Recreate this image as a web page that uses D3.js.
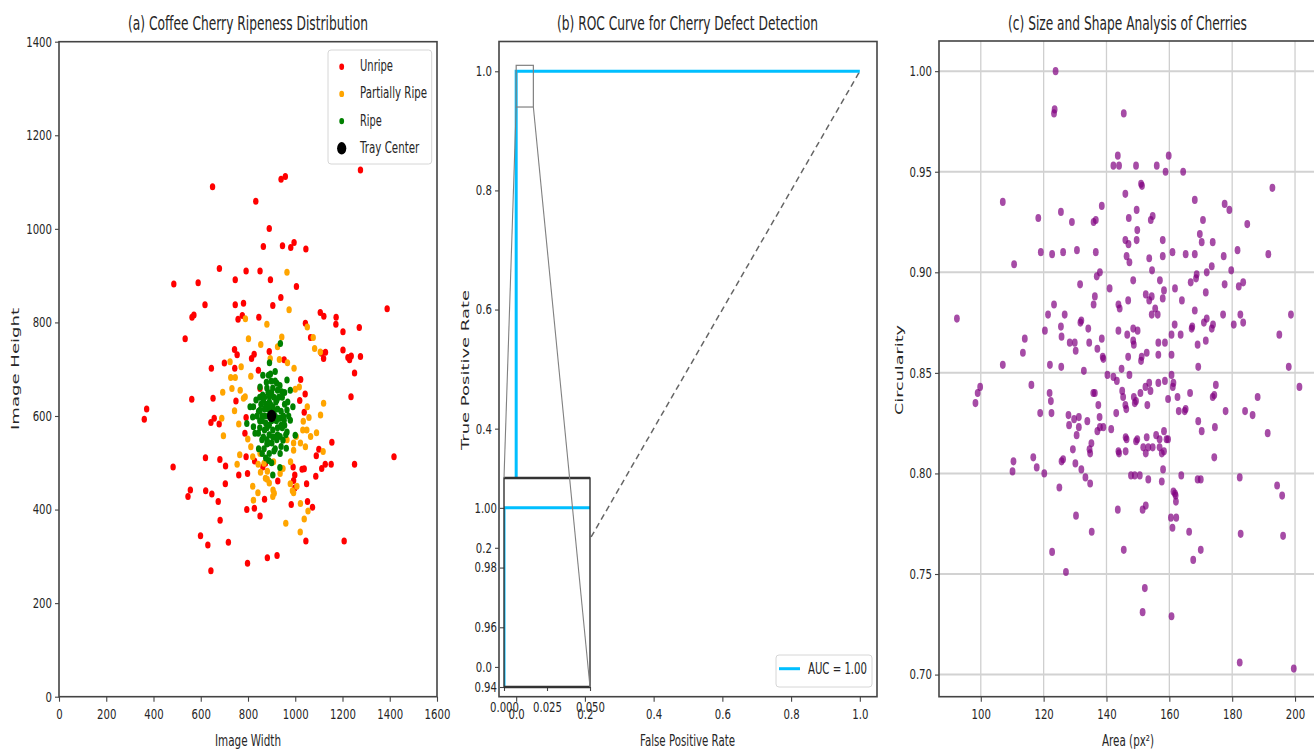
<!DOCTYPE html>
<html>
<head>
<meta charset="utf-8">
<script src="https://cdn.jsdelivr.net/npm/d3@7"></script>
<style>
  body { margin: 0; background: #fff; }
  svg text { font-family: "DejaVu Sans", sans-serif; fill: #262626; }
  .axis line { stroke: #444; }
</style>
</head>
<body>
<div id="chart"></div>
<script>
// ---------- data ----------
// (a) cherry positions on the tray [image width, image height]
const unripePts = [[650,1090],[833,1059],[940,1106],[958,1112],[1276,1126],[890,1001],[865,962],[946,964],[981,960],[995,971],[1045,957],[679,915],[792,910],[851,910],[486,882],[589,885],[746,891],[895,891],[1005,877],[1389,829],[618,838],[746,838],[781,841],[905,836],[939,853],[563,811],[571,816],[758,807],[776,815],[846,811],[1043,798],[1106,821],[1121,813],[1173,811],[1172,796],[1202,780],[1271,789],[534,765],[1065,768],[743,742],[754,731],[815,723],[826,732],[953,720],[890,738],[1111,734],[1128,736],[1120,723],[1202,741],[1223,725],[1237,728],[1230,720],[1276,727],[1251,692],[1236,641],[1418,513],[645,702],[700,713],[744,702],[844,698],[562,636],[652,638],[749,632],[851,659],[361,593],[371,615],[643,586],[657,595],[678,583],[1023,678],[1042,647],[1019,633],[1038,608],[1155,544],[1100,529],[1089,515],[483,491],[620,511],[681,507],[705,493],[761,474],[798,477],[792,513],[828,504],[926,461],[991,491],[1029,486],[1038,487],[1087,471],[1112,488],[1127,497],[1152,497],[1251,497],[704,455],[556,442],[546,428],[621,440],[647,433],[998,474],[993,462],[998,446],[1048,455],[674,417],[795,400],[827,403],[851,386],[682,377],[1073,405],[1052,417],[983,411],[1045,333],[1207,333],[599,344],[630,324],[717,330],[798,285],[882,297],[923,302],[643,269],[787,563],[792,597],[870,422],[863,491],[874,499]];
const partialPts = [[965,907],[974,827],[789,808],[880,796],[1051,790],[802,765],[854,753],[943,769],[1076,768],[1082,744],[1106,737],[925,748],[724,716],[771,705],[894,723],[933,721],[967,714],[995,702],[727,682],[767,655],[693,651],[732,659],[781,638],[812,685],[1000,657],[1017,662],[1120,627],[1058,597],[1107,602],[1034,589],[1032,570],[1065,556],[1090,564],[1022,542],[1043,534],[1118,524],[993,527],[1004,556],[980,502],[948,488],[1007,450],[988,440],[1022,413],[1054,397],[1038,380],[960,371],[1021,352],[881,465],[890,457],[906,442],[911,435],[905,428],[823,420],[842,436],[820,450],[853,480],[843,497],[820,513],[765,517],[754,497],[743,611],[689,595],[696,558],[761,583],[799,551],[812,534],[851,520],[908,502],[882,482],[874,467],[936,477],[979,455],[993,436],[788,641],[746,682],[1051,620],[965,549],[1049,570],[868,499],[993,542]];
const ripePts = [[937,755],[891,714],[915,695],[863,687],[887,687],[965,677],[979,655],[943,652],[851,662],[834,634],[820,598],[823,577],[844,563],[859,549],[965,613],[979,591],[1000,559],[965,566],[936,520],[962,531],[905,474],[795,584],[809,620],[936,556],[901,542],[880,549],[922,634],[865,634],[936,595],[851,613],[891,641],[922,670],[830,563],[887,542],[922,549],[990,620],[953,591],[823,620],[870,600],[880,620],[890,580],[910,610],[920,590],[900,650],[880,660],[905,570],[915,555],[870,570],[860,590],[895,625],[925,615],[940,610],[885,600],[910,640],[930,640],[870,640],[850,575],[900,590],[915,675],[895,690],[880,575],[925,575],[945,575],[955,625],[860,520],[875,510],[890,520],[915,530],[940,535],[845,530],[900,500],[935,490],[960,560],[850,640],[845,610],[875,625],[905,605],[890,560],
  [860,600],[875,585],[895,605],[915,600],[930,595],[905,620],[890,630],[870,615],[885,650],[905,660],[925,655],[945,640],[950,600],[940,580],[925,560],[905,555],[880,540],[865,555],[855,625],[862,645],[878,672],[898,675],[935,665],[955,650],[968,630],[972,600],[955,580],[948,548],[910,525],[888,505],[868,530],[850,590],[838,600],[900,615],[918,630],[885,615]];
const trayCenter = [900, 600];
const ripenessClasses = ["Unripe", "Partially Ripe", "Ripe", "Tray Center"];

// (b) ROC
const rocFpr = [0, 0, 1];
const rocTpr = [0, 1, 1];
const chanceFpr = [0, 1];
const chanceTpr = [0, 1];
const aucLabel = "AUC = 1.00";

// (c) [area px², circularity]
const cherryPts = [[123.8,1.000],[123.3,0.979],[123.5,0.981],[145.5,0.979],[143.6,0.958],[142.2,0.953],[144.0,0.953],[149.4,0.953],[156.0,0.953],[158.8,0.950],[159.8,0.958],[164.4,0.950],[151.0,0.944],[151.3,0.943],[146.0,0.939],[107.0,0.935],[192.8,0.942],[168.1,0.936],[177.6,0.934],[179.1,0.931],[118.3,0.927],[125.5,0.930],[129.0,0.925],[135.9,0.925],[136.6,0.926],[138.5,0.933],[147.1,0.927],[149.6,0.931],[154.1,0.926],[154.7,0.928],[149.8,0.921],[170.7,0.926],[184.8,0.924],[146.0,0.916],[147.0,0.914],[149.6,0.916],[157.9,0.916],[169.7,0.919],[170.3,0.915],[173.8,0.915],
  [119.1,0.910],[122.7,0.909],[126.2,0.910],[130.6,0.911],[136.6,0.910],[146.4,0.908],[147.3,0.905],[153.6,0.907],[157.9,0.908],[161.0,0.910],[165.2,0.909],[168.1,0.909],[177.3,0.908],[181.7,0.911],[191.5,0.909],
  [110.6,0.904],[137.9,0.900],[136.9,0.898],[154.5,0.901],[157.0,0.896],[179.7,0.901],[173.5,0.903],[171.9,0.900],[168.7,0.899],[168.5,0.897],[166.8,0.895],[161.8,0.892],[177.6,0.894],[182.1,0.893],[183.5,0.895],[148.5,0.896],[131.6,0.894],[141.0,0.892],[146.9,0.886],[143.8,0.884],[144.2,0.882],[135.9,0.884],[136.3,0.888],[152.5,0.889],[153.6,0.886],[154.4,0.888],[155.5,0.882],[156.3,0.879],[154.4,0.879],[158.3,0.891],[157.9,0.887],[164.0,0.886],[168.1,0.881],[171.6,0.890],[177.1,0.879],[182.6,0.879],[183.5,0.875],[180.5,0.874],[198.7,0.879],[195.0,0.869],[198.0,0.853],[201.4,0.843],[92.4,0.877],[121.4,0.879],[123.3,0.884],[120.4,0.871],[126.7,0.879],[125.5,0.873],[125.7,0.868],[132.0,0.876],[131.7,0.875],[134.2,0.872],[128.3,0.865],[129.9,0.865],[130.2,0.861],[134.5,0.865],[137.1,0.862],[138.5,0.867],[138.8,0.858],[139.0,0.857],[143.8,0.871],[146.6,0.869],[148.5,0.872],[149.9,0.871],[148.5,0.866],[148.7,0.864],[146.9,0.858],[151.0,0.856],[151.2,0.858],[152.8,0.860],[156.5,0.865],[158.6,0.865],[160.7,0.869],[161.7,0.874],[163.6,0.869],[156.5,0.859],[160.7,0.859],[167.1,0.872],[167.3,0.873],[169.0,0.864],[169.2,0.853],[171.0,0.875],[171.9,0.877],[171.6,0.866],[173.5,0.872],[173.9,0.874],
  [144.8,0.852],[147.3,0.849],[143.3,0.846],[145.0,0.841],[140.3,0.849],[142.2,0.848],[132.8,0.851],[125.6,0.853],[122.0,0.854],[113.4,0.860],[114.0,0.867],[107.0,0.854],[116.1,0.844],[98.3,0.835],[99.0,0.840],[99.8,0.843],[118.9,0.830],[121.9,0.840],[122.3,0.836],[122.5,0.830],[127.9,0.829],[128.1,0.824],[130.5,0.819],[129.7,0.827],[131.2,0.828],[131.2,0.823],[133.9,0.826],[135.8,0.840],[136.3,0.840],[137.4,0.834],[137.8,0.828],[137.1,0.821],[137.9,0.823],[139.0,0.823],[141.5,0.822],[143.1,0.830],[146.0,0.834],[146.3,0.832],[145.3,0.838],[148.7,0.838],[149.0,0.835],[149.4,0.836],[150.8,0.840],[152.4,0.843],[153.0,0.834],[153.6,0.845],[154.0,0.841],[156.5,0.845],[158.6,0.846],[159.6,0.837],[160.7,0.849],[161.3,0.845],[161.1,0.843],[162.6,0.838],[163.0,0.831],[164.9,0.831],[165.2,0.832],[166.6,0.840],[169.2,0.826],[170.3,0.821],[173.8,0.838],[174.3,0.839],[174.8,0.844],[174.5,0.823],[177.9,0.831],[184.1,0.831],[186.5,0.829],[188.1,0.838],[191.3,0.820],
  [158.3,0.821],[159.1,0.817],[159.6,0.817],[155.8,0.819],[156.9,0.817],[156.9,0.813],[152.8,0.818],[153.3,0.813],[151.7,0.813],[149.4,0.816],[149.8,0.817],[146.1,0.818],[146.4,0.817],[143.8,0.811],[144.0,0.810],[146.1,0.811],[152.5,0.810],[154.7,0.813],[157.6,0.810],[158.3,0.811],[158.0,0.802],[163.8,0.799],[147.8,0.799],[149.0,0.799],[150.6,0.799],[153.3,0.797],[157.6,0.796],[161.3,0.791],[161.8,0.790],[162.0,0.789],[169.0,0.797],[170.0,0.797],[174.3,0.808],[182.4,0.798],[194.3,0.794],[195.9,0.789],[134.6,0.812],[134.8,0.810],[135.2,0.815],[132.0,0.802],[133.3,0.798],[134.8,0.795],[130.1,0.805],[125.7,0.806],[126.2,0.807],[129.3,0.812],[125.0,0.793],[120.2,0.800],[116.7,0.808],[117.8,0.803],[110.4,0.806],[110.1,0.801],
  [162.1,0.786],[152.5,0.784],[151.5,0.782],[143.6,0.782],[130.3,0.779],[135.3,0.771],[160.5,0.778],[162.2,0.778],[161.0,0.773],[166.3,0.771],[182.7,0.770],[196.2,0.769],[122.7,0.761],[145.5,0.762],[170.0,0.762],[167.6,0.757],[127.1,0.751],[152.2,0.743],[151.5,0.731],[160.7,0.729],[182.4,0.706],[199.6,0.703]];

// tick labels
const widthTicks = [0, 200, 400, 600, 800, 1000, 1200, 1400, 1600];
const heightTicks = [0, 200, 400, 600, 800, 1000, 1200, 1400];
const rateTicks = [0, 0.2, 0.4, 0.6, 0.8, 1.0];
const insetXTicks = [0, 0.025, 0.05];
const insetYTicks = [0.94, 0.96, 0.98, 1.00];
const areaTicks = [100, 120, 140, 160, 180, 200];
const circTicks = [0.70, 0.75, 0.80, 0.85, 0.90, 0.95, 1.00];

// ---------- setup ----------
const W = 1314, H = 753;
const svg = d3.select("#chart").append("svg").attr("width", W).attr("height", H);
const sx = 0.74;           // horizontal squeeze of the glyphs
const tickFont = 13.7;

function squeezeTicks(g) {
  g.select(".domain").remove();
  g.selectAll(".tick text").attr("font-size", tickFont).attr("fill", "#262626").each(function() {
    const t = d3.select(this);
    const x = +t.attr("x") || 0;
    t.attr("x", null).attr("transform", `translate(${x},0) scale(${sx},1)`);
  });
  g.selectAll(".tick line").attr("stroke", "#444").attr("stroke-width", 1.1);
}

function title(x, txt, len) {
  svg.append("text").attr("x", x).attr("y", 30).attr("text-anchor", "middle")
    .attr("font-size", 19).attr("textLength", len).attr("lengthAdjust", "spacingAndGlyphs").text(txt);
}
function xLabel(x, txt, len) {
  svg.append("text").attr("x", x).attr("y", 746).attr("text-anchor", "middle")
    .attr("font-size", 16).attr("textLength", len).attr("lengthAdjust", "spacingAndGlyphs").text(txt);
}
function yLabel(x, y, txt, len) {
  svg.append("text").attr("transform", `translate(${x},${y}) rotate(-90) scale(1,0.55)`)
    .attr("text-anchor", "middle").attr("font-size", 17.5)
    .attr("textLength", len).attr("lengthAdjust", "spacingAndGlyphs").text(txt);
}
function frame(x0, y0, x1, y1) {
  svg.append("rect").attr("x", x0).attr("y", y0).attr("width", x1 - x0).attr("height", y1 - y0)
    .attr("fill", "none").attr("stroke", "#444").attr("stroke-width", 1.6);
}
function clip(id, x0, y0, x1, y1) {
  svg.append("clipPath").attr("id", id).append("rect")
    .attr("x", x0).attr("y", y0).attr("width", x1 - x0).attr("height", y1 - y0);
}

// ---------- (a) ripeness distribution ----------
const aX = d3.scaleLinear().domain([0, 1600]).range([59, 437]);
const aY = d3.scaleLinear().domain([0, 1400]).range([696.7, 41.7]);

svg.append("g").attr("class", "axis").attr("transform", "translate(0,696.7)")
  .call(d3.axisBottom(aX).tickValues(widthTicks).tickSize(5).tickPadding(8).tickFormat(d3.format("d")))
  .call(squeezeTicks);
svg.append("g").attr("class", "axis").attr("transform", "translate(59,0)")
  .call(d3.axisLeft(aY).tickValues(heightTicks).tickSize(4).tickPadding(3).tickFormat(d3.format("d")))
  .call(squeezeTicks);

const groupsA = [
  {pts: unripePts, color: "#ff0000"},
  {pts: partialPts, color: "#ffa500"},
  {pts: ripePts, color: "#008000"}
];
groupsA.forEach(grp => {
  svg.append("g").selectAll("ellipse").data(grp.pts).join("ellipse")
    .attr("cx", d => aX(d[0])).attr("cy", d => aY(d[1]))
    .attr("rx", 2.7).attr("ry", 3.5).attr("fill", grp.color);
});
svg.append("ellipse").attr("cx", aX(trayCenter[0])).attr("cy", aY(trayCenter[1]))
  .attr("rx", 4.6).attr("ry", 6.2).attr("fill", "#000");

frame(59, 41.7, 437, 696.7);

// legend (a)
const legA = svg.append("g");
legA.append("rect").attr("x", 328).attr("y", 50).attr("width", 103.7).attr("height", 114)
  .attr("rx", 3).attr("fill", "#fff").attr("fill-opacity", 0.8).attr("stroke", "#d6d6d6");
const legColors = ["#ff0000", "#ffa500", "#008000", "#000"];
const legLens = [33, 67, 21.7, 59.3];
ripenessClasses.forEach((name, i) => {
  const cy = 66.7 + i * 27.2;
  const big = i === 3;
  legA.append("ellipse").attr("cx", 341.7).attr("cy", cy)
    .attr("rx", big ? 4.6 : 2.4).attr("ry", big ? 6.2 : 3.2).attr("fill", legColors[i]);
  legA.append("text").attr("x", 360).attr("y", cy + 4.5).attr("font-size", 15)
    .attr("textLength", legLens[i]).attr("lengthAdjust", "spacingAndGlyphs").text(name);
});

title(248, "(a) Coffee Cherry Ripeness Distribution", 240);
xLabel(248, "Image Width", 66);
yLabel(19, 369, "Image Height", 122);

// ---------- (b) ROC curve ----------
const bX = d3.scaleLinear().domain([-0.05, 1.05]).range([499, 877]);
const bY = d3.scaleLinear().domain([-0.05, 1.05]).range([696.7, 41.5]);
clip("clipB", 499, 41.5, 877, 696.7);

svg.append("g").attr("class", "axis").attr("transform", "translate(0,696.7)")
  .call(d3.axisBottom(bX).tickValues(rateTicks).tickSize(5).tickPadding(8).tickFormat(d3.format(".1f")))
  .call(squeezeTicks);
svg.append("g").attr("class", "axis").attr("transform", "translate(499,0)")
  .call(d3.axisLeft(bY).tickValues(rateTicks).tickSize(4).tickPadding(3).tickFormat(d3.format(".1f")))
  .call(squeezeTicks);

const rocData = rocFpr.map((f, i) => [f, rocTpr[i]]);
const chanceData = chanceFpr.map((f, i) => [f, chanceTpr[i]]);
const bLine = d3.line().x(d => bX(d[0])).y(d => bY(d[1]));

const bPlot = svg.append("g").attr("clip-path", "url(#clipB)");
bPlot.append("path").datum(chanceData).attr("d", bLine)
  .attr("fill", "none").attr("stroke", "#666").attr("stroke-width", 1.5).attr("stroke-dasharray", "6,4");
bPlot.append("path").datum(rocData).attr("d", bLine)
  .attr("fill", "none").attr("stroke", "#00bfff").attr("stroke-width", 3);

// zoom indicator
const zoomX = [0, 0.05], zoomY = [0.94, 1.01];
svg.append("rect").attr("x", bX(zoomX[0])).attr("y", bY(zoomY[1]))
  .attr("width", bX(zoomX[1]) - bX(zoomX[0])).attr("height", bY(zoomY[0]) - bY(zoomY[1]))
  .attr("fill", "none").attr("stroke", "#808080").attr("stroke-width", 1.2);

frame(499, 41.5, 877, 696.7);

// inset
const iX = d3.scaleLinear().domain(zoomX).range([504, 590]);
const iY = d3.scaleLinear().domain(zoomY).range([687, 478]);
clip("clipI", 504, 478, 590, 687);
svg.append("rect").attr("x", 504).attr("y", 478).attr("width", 86).attr("height", 209).attr("fill", "#fff");
const iLine = d3.line().x(d => iX(d[0])).y(d => iY(d[1]));
svg.append("g").attr("clip-path", "url(#clipI)").append("path").datum(rocData).attr("d", iLine)
  .attr("fill", "none").attr("stroke", "#00bfff").attr("stroke-width", 3);
svg.append("g").attr("class", "axis").attr("transform", "translate(0,687)")
  .call(d3.axisBottom(iX).tickValues(insetXTicks).tickSize(4).tickPadding(11).tickFormat(d3.format(".3f")))
  .call(squeezeTicks);
svg.append("g").attr("class", "axis").attr("transform", "translate(504,0)")
  .call(d3.axisLeft(iY).tickValues(insetYTicks).tickSize(4).tickPadding(3).tickFormat(d3.format(".2f")))
  .call(squeezeTicks);
svg.append("rect").attr("x", 504).attr("y", 478).attr("width", 86).attr("height", 209)
  .attr("fill", "none").attr("stroke", "#333").attr("stroke-width", 1.4);
[478, 687].forEach(y => svg.append("line").attr("x1", 504).attr("x2", 590).attr("y1", y).attr("y2", y)
  .attr("stroke", "#333").attr("stroke-width", 2.4));

// connectors
svg.append("line").attr("x1", bX(zoomX[0])).attr("y1", bY(zoomY[0])).attr("x2", iX(zoomX[0])).attr("y2", iY(zoomY[1]))
  .attr("stroke", "#808080").attr("stroke-width", 1.1);
svg.append("line").attr("x1", bX(zoomX[1])).attr("y1", bY(zoomY[0])).attr("x2", iX(zoomX[1])).attr("y2", iY(zoomY[0]))
  .attr("stroke", "#808080").attr("stroke-width", 1.1);

// legend (b)
const legB = svg.append("g");
legB.append("rect").attr("x", 776).attr("y", 655).attr("width", 96).attr("height", 32)
  .attr("rx", 3).attr("fill", "#fff").attr("fill-opacity", 0.8).attr("stroke", "#d6d6d6");
legB.append("line").attr("x1", 779).attr("x2", 800).attr("y1", 668.7).attr("y2", 668.7)
  .attr("stroke", "#00bfff").attr("stroke-width", 3);
legB.append("text").attr("x", 808).attr("y", 674).attr("font-size", 15)
  .attr("textLength", 59).attr("lengthAdjust", "spacingAndGlyphs").text(aucLabel);

title(687.5, "(b) ROC Curve for Cherry Defect Detection", 261);
xLabel(687.5, "False Positive Rate", 95);
yLabel(468.5, 370, "True Positive Rate", 160);

// ---------- (c) size and shape ----------
const cX = d3.scaleLinear().domain([86.7, 207.5]).range([939, 1318.6]);
const cY = d3.scaleLinear().domain([0.689, 1.015]).range([696.7, 41]);
clip("clipC", 939, 41, 1318.6, 696.7);

const grid = svg.append("g");
grid.selectAll("line.v").data(areaTicks).join("line").attr("class", "v")
  .attr("x1", d => cX(d)).attr("x2", d => cX(d)).attr("y1", 41).attr("y2", 696.7)
  .attr("stroke", "#cfcfcf").attr("stroke-width", 1.3);
grid.selectAll("line.h").data(circTicks).join("line").attr("class", "h")
  .attr("x1", 939).attr("x2", 1318.6).attr("y1", d => cY(d)).attr("y2", d => cY(d))
  .attr("stroke", "#d2d2d2").attr("stroke-width", 2);

svg.append("g").attr("class", "axis").attr("transform", "translate(0,696.7)")
  .call(d3.axisBottom(cX).tickValues(areaTicks).tickSize(5).tickPadding(8).tickFormat(d3.format("d")))
  .call(squeezeTicks);
svg.append("g").attr("class", "axis").attr("transform", "translate(939,0)")
  .call(d3.axisLeft(cY).tickValues(circTicks).tickSize(4).tickPadding(3).tickFormat(d3.format(".2f")))
  .call(squeezeTicks);

svg.append("g").attr("clip-path", "url(#clipC)").selectAll("ellipse").data(cherryPts).join("ellipse")
  .attr("cx", d => cX(d[0])).attr("cy", d => cY(d[1]))
  .attr("rx", 2.9).attr("ry", 4.1).attr("fill", "#800080").attr("fill-opacity", 0.7);

frame(939, 41, 1318.6, 696.7);

title(1127.5, "(c) Size and Shape Analysis of Cherries", 239);
xLabel(1128, "Area (px²)", 52);
yLabel(902.5, 370, "Circularity", 90);
</script>
</body>
</html>
